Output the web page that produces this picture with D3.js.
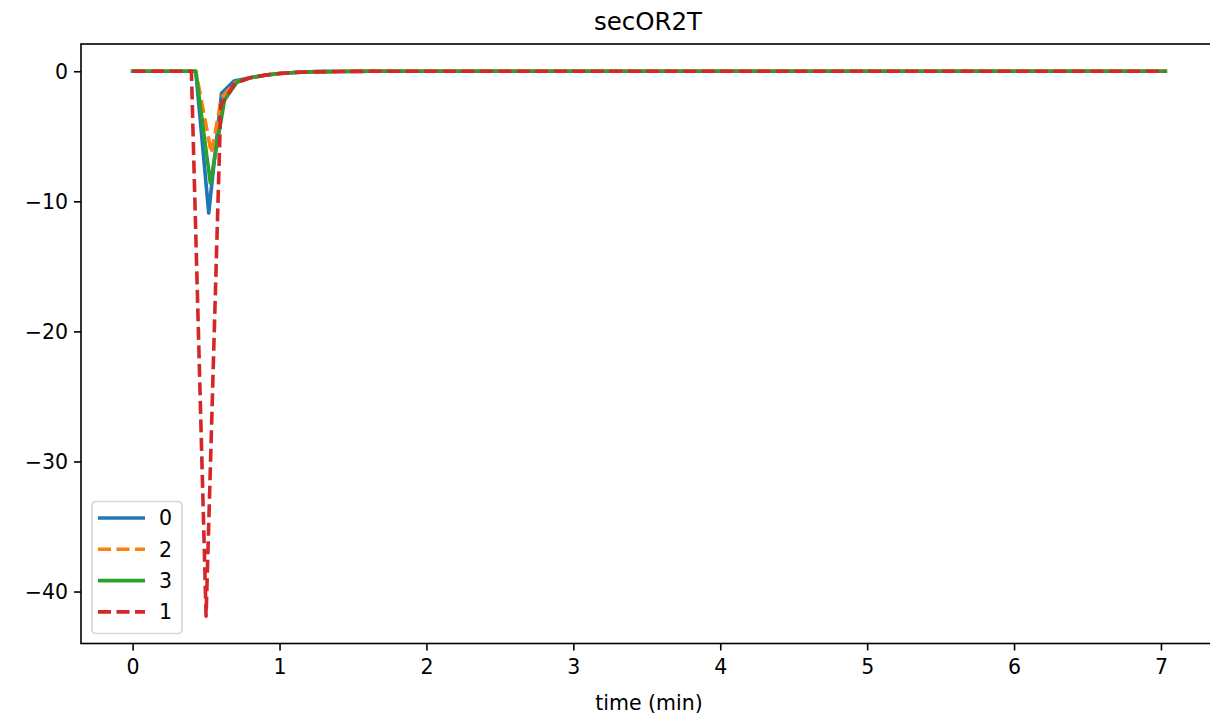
<!DOCTYPE html>
<html>
<head>
<meta charset="utf-8">
<script src="https://cdn.jsdelivr.net/npm/d3@7"></script>
<style>
  body { margin: 0; background: #fff; }
  text { font-family: "DejaVu Sans", sans-serif; fill: #000; }
</style>
</head>
<body>
<svg id="chart" width="1210" height="720"></svg>
<script>
// ---- data ----
const title = "secOR2T";
const xLabel = "time (min)";
const seriesNames = ["0", "2", "3", "1"];
const seriesColors = ["#1f77b4", "#ff7f0e", "#2ca02c", "#d62728"];
const seriesDashed = [false, true, false, true];

const time0 = [0, 0.43, 0.518, 0.605, 0.69, 0.8, 0.9, 1.0, 1.1, 1.2, 1.3, 1.4, 1.6, 2.0, 7.03];
const vals0 = [0, 0, -10.9, -1.7, -0.75, -0.5, -0.3, -0.17, -0.1, -0.05, -0.03, -0.015, -0.005, 0, 0];

const time2 = [0, 0.43, 0.536, 0.606, 0.7, 0.8, 0.9, 1.0, 1.1, 1.2, 1.3, 1.4, 1.6, 2.0, 7.03];
const vals2 = [0, 0, -6.3, -2.0, -0.85, -0.5, -0.3, -0.17, -0.1, -0.05, -0.03, -0.015, -0.005, 0, 0];

const time3 = [0, 0.43, 0.529, 0.626, 0.71, 0.8, 0.9, 1.0, 1.1, 1.2, 1.3, 1.4, 1.6, 2.0, 7.03];
const vals3 = [0, 0, -8.6, -2.2, -0.85, -0.5, -0.3, -0.17, -0.1, -0.05, -0.03, -0.015, -0.005, 0, 0];

const time1 = [0, 0.4, 0.5, 0.6, 0.7, 0.8, 0.9, 1.0, 1.1, 1.2, 1.3, 1.4, 1.6, 2.0, 7.03];
const vals1 = [0, 0, -41.9, -2.6, -0.9, -0.5, -0.3, -0.17, -0.1, -0.05, -0.03, -0.015, -0.005, 0, 0];

const xTicks = [0, 1, 2, 3, 4, 5, 6, 7];
const yTicks = [0, -10, -20, -30, -40];

const seriesTimes = [time0, time2, time3, time1];
const seriesVals = [vals0, vals2, vals3, vals1];

(function () {
// ---- layout ----
const svg = d3.select("#chart");
const pLeft = 81, pRight = 1217, pTop = 44, pBottom = 643.5;
const fs = 20.5;

const xmin = 0, xmax = 7.03;
const xpad = (xmax - xmin) * 0.05;
const x = d3.scaleLinear().domain([xmin - xpad, xmax + xpad]).range([pLeft, pRight]);
const ymin = -41.9, ymax = 0;
const ypad = (ymax - ymin) * 0.05;
const y = d3.scaleLinear().domain([ymin - ypad, ymax + ypad]).range([pBottom, pTop]);

svg.append("defs").append("clipPath").attr("id", "clip")
  .append("rect").attr("x", pLeft).attr("y", pTop).attr("width", pRight - pLeft).attr("height", pBottom - pTop);

const line = d3.line().x(d => x(d[0])).y(d => y(d[1]));
const lw = 3.6;
const dash = "13,5.5";

const g = svg.append("g").attr("clip-path", "url(#clip)");
seriesNames.forEach((name, i) => {
  const pts = seriesTimes[i].map((t, k) => [t, seriesVals[i][k]]);
  g.append("path")
    .datum(pts)
    .attr("d", line)
    .attr("fill", "none")
    .attr("stroke", seriesColors[i])
    .attr("stroke-width", lw)
    .attr("stroke-linejoin", "round")
    .attr("stroke-linecap", seriesDashed[i] ? "butt" : "square")
    .attr("stroke-dasharray", seriesDashed[i] ? dash : null);
});

// axes
const xAxis = d3.axisBottom(x).tickValues(xTicks).tickSize(7).tickPadding(8)
  .tickFormat(d => d3.format("d")(d));
const yAxis = d3.axisLeft(y).tickValues(yTicks).tickSize(7).tickPadding(7)
  .tickFormat(d => (d < 0 ? "\u2212" + Math.abs(d) : String(d)));

const gx = svg.append("g").attr("transform", `translate(0,${pBottom})`).call(xAxis);
const gy = svg.append("g").attr("transform", `translate(${pLeft},0)`).call(yAxis);
[gx, gy].forEach(a => {
  a.select(".domain").remove();
  a.selectAll(".tick line").attr("stroke", "#000").attr("stroke-width", 1.6);
  a.selectAll(".tick text").attr("font-size", fs).attr("font-family", "DejaVu Sans");
});
gx.selectAll(".tick text").attr("dy", "0.75em");
gy.selectAll(".tick text").attr("dy", "0.36em").attr("x", -13);

// frame
svg.append("rect").attr("x", pLeft).attr("y", pTop)
  .attr("width", pRight - pLeft).attr("height", pBottom - pTop)
  .attr("fill", "none").attr("stroke", "#000").attr("stroke-width", 1.6);

// title & labels
svg.append("text").attr("x", (pLeft + pRight) / 2 - 1).attr("y", 30)
  .attr("text-anchor", "middle").attr("font-size", 24.5).text(title);
svg.append("text").attr("x", (pLeft + pRight) / 2).attr("y", 710)
  .attr("text-anchor", "middle").attr("font-size", fs).text(xLabel);

// legend
const lg = svg.append("g");
lg.append("rect").attr("x", 92).attr("y", 501.5).attr("width", 90).attr("height", 132)
  .attr("rx", 4).attr("fill", "#fff").attr("fill-opacity", 0.8)
  .attr("stroke", "#d5d5d5").attr("stroke-width", 1.6);
seriesNames.forEach((name, i) => {
  const yy = 518 + i * 31.3;
  lg.append("line").attr("x1", 98).attr("x2", 145).attr("y1", yy).attr("y2", yy)
    .attr("stroke", seriesColors[i]).attr("stroke-width", lw)
    .attr("stroke-dasharray", seriesDashed[i] ? dash : null);
  lg.append("text").attr("x", 159).attr("y", yy).attr("dy", "0.36em")
    .attr("font-size", fs).text(name);
});
})();
</script>
</body>
</html>
